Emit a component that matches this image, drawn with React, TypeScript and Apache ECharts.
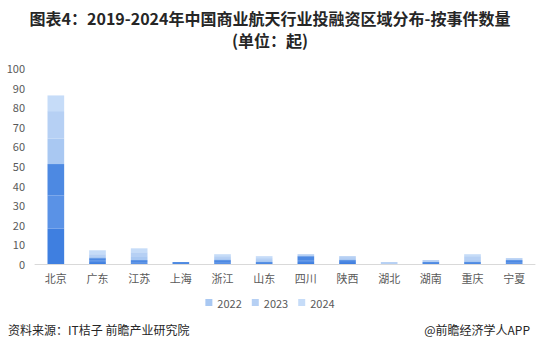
import React, { useEffect, useRef } from "react";
import * as echarts from "echarts";

const categories = ["北京", "广东", "江苏", "上海", "浙江", "山东", "四川", "陕西", "湖北", "湖南", "重庆", "宁夏"];
const years = ["2019", "2020", "2021", "2022", "2023", "2024"];
const v2019 = [18, 1, 0, 0, 0, 0, 1, 1, 0, 0, 0, 0];
const v2020 = [17, 1, 1, 0, 1, 0, 1, 0, 0, 0, 0, 1];
const v2021 = [16, 1, 1, 1, 1, 1, 2, 1, 0, 1, 1, 1];
const v2022 = [13, 1, 2, 0, 1, 1, 0, 1, 0, 0, 1, 0];
const v2023 = [14, 1, 2, 0, 1, 1, 1, 1, 1, 1, 2, 1];
const v2024 = [8, 2, 2, 0, 1, 1, 0, 0, 0, 0, 1, 0];
const seriesValues = [v2019, v2020, v2021, v2022, v2023, v2024];
const colors = ["#3f7fe0", "#5a92e6", "#4d89e2", "#a9c8f2", "#b6d0f4", "#c6dcf8"];
const legendYears = ["2022", "2023", "2024"];
const yTicks = { min: 0, max: 100, interval: 10 };

export default function App() {
  const ref = useRef<HTMLDivElement>(null);
  useEffect(() => {
    const chart = echarts.init(ref.current!, null, { renderer: "svg" });
    const font = "'Noto Sans CJK SC', 'Noto Sans', sans-serif";
    chart.setOption({
      animation: false,
      backgroundColor: "#ffffff",
      textStyle: { fontFamily: font },
      title: {
        text: "图表4：2019-2024年中国商业航天行业投融资区域分布-按事件数量",
        subtext: "(单位：起)",
        left: "center",
        top: 10,
        padding: 0,
        itemGap: 6,
        textStyle: { fontSize: 16, fontWeight: "bold", color: "#262626", fontFamily: font },
        subtextStyle: { fontSize: 16, fontWeight: "bold", color: "#262626", fontFamily: font },
      },
      legend: {
        data: legendYears,
        bottom: 40,
        left: "center",
        itemWidth: 7,
        itemHeight: 7,
        itemGap: 10,
        icon: "rect",
        textStyle: { fontSize: 11, color: "#595959", fontFamily: font },
      },
      grid: { left: 35, right: 5, top: 68, bottom: 89, containLabel: false },
      xAxis: {
        type: "category",
        data: categories,
        axisLine: { lineStyle: { color: "#d9d9d9" } },
        axisTick: { show: false },
        axisLabel: { fontSize: 11, color: "#595959", margin: 8, fontFamily: font },
      },
      yAxis: {
        type: "value",
        min: yTicks.min,
        max: yTicks.max,
        interval: yTicks.interval,
        splitLine: { show: false },
        axisLine: { show: false },
        axisLabel: { fontSize: 11, color: "#595959", margin: 10, fontFamily: font },
      },
      graphic: [
        {
          type: "text",
          left: 8,
          top: 323,
          style: { text: "资料来源：IT桔子 前瞻产业研究院", fontSize: 12, fill: "#262626", fontFamily: font },
        },
        {
          type: "text",
          right: 10,
          top: 323,
          style: { text: "@前瞻经济学人APP", fontSize: 12, fill: "#262626", fontFamily: font },
        },
      ],
      series: years.map((y, i) => ({
        name: y,
        type: "bar",
        stack: "total",
        barWidth: "40%",
        data: seriesValues[i],
        itemStyle: { color: colors[i] },
      })),
    });
    return () => chart.dispose();
  }, []);
  return <div ref={ref} style={{ width: 540, height: 353, position: "absolute", left: 0, top: 0 }} />;
}
